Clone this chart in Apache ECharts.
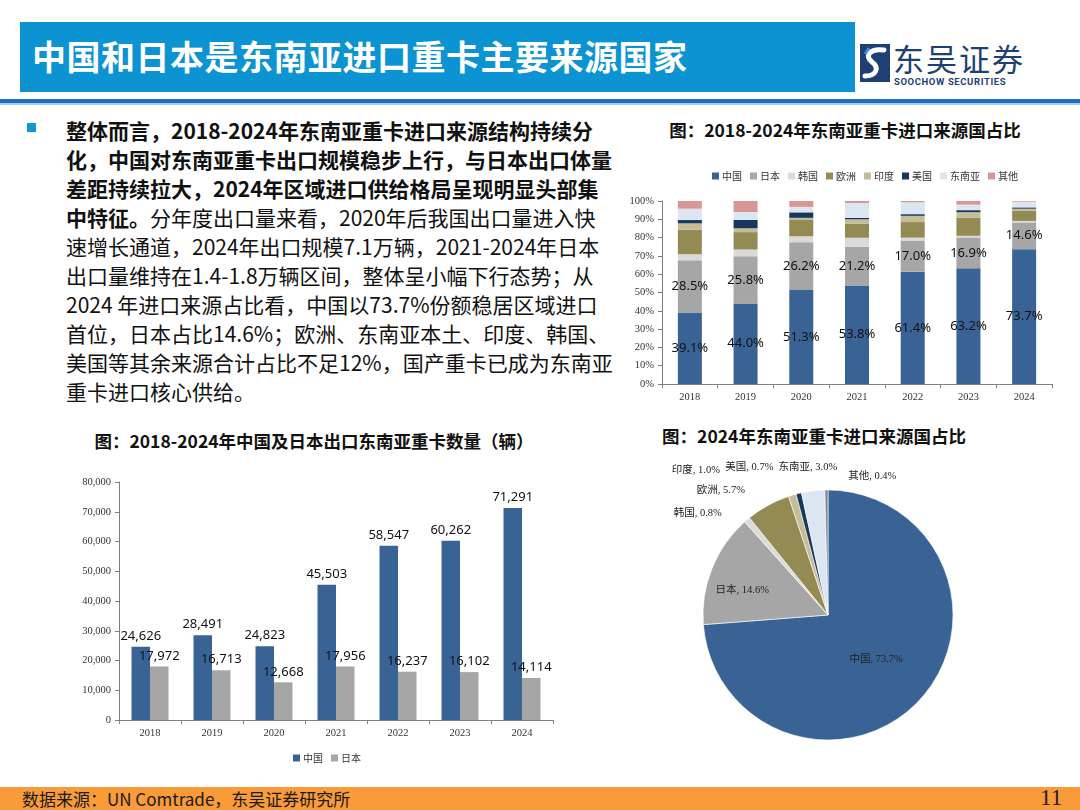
<!DOCTYPE html>
<html>
<head>
<meta charset="utf-8">
<script src="https://cdn.jsdelivr.net/npm/echarts@6/dist/echarts.min.js"></script>
<style>
  html, body { margin:0; padding:0; }
  body { width:1080px; height:810px; position:relative; overflow:hidden; background:#fff; font-family:"Noto Sans CJK SC","Noto Sans",sans-serif; }
  .abs { position:absolute; }
  #hdr { left:20px; top:22px; width:835px; height:70px; background:#0c93d1; }
  #hdrTitle { left:32px; top:34px; color:#fff; font-size:34px; font-weight:bold; line-height:44px; white-space:nowrap; letter-spacing:0.5px; }
  #line1 { left:0; top:99px; width:1080px; height:4px; background:#1f6fba; }
  #line2 { left:0; top:103px; width:1080px; height:2px; background:#a9c9e8; }
  #logoText { left:893px; top:39px; font-size:31px; color:#1d3f72; line-height:38px; white-space:nowrap; letter-spacing:2px; }
  #logoSub { left:894px; top:76px; font-size:9.5px; font-weight:bold; color:#1d3f72; white-space:nowrap; letter-spacing:0.6px; font-family:"Roboto","DejaVu Sans Condensed",sans-serif; }
  #bullet { left:27px; top:123px; width:9px; height:9px; background:#1197d6; }
  #para { left:66px; top:116px; font-size:21px; line-height:29px; color:#111; white-space:nowrap; }
  #para b { font-weight:bold; }
  .ctitle { font-size:17.5px; font-weight:bold; color:#111; white-space:nowrap; text-align:center; }
  #foot { left:0; top:787px; width:1080px; height:23px; background:#f89b38; }
  #footText { left:22px; top:787px; font-size:17px; line-height:23px; color:#1a1a1a; white-space:nowrap; letter-spacing:0px; }
  #pageNo { left:1040px; top:785px; font-size:23px; line-height:26px; color:#222; font-family:"Liberation Serif",serif; }
  #chart { left:0; top:0; width:1080px; height:810px; }
</style>
</head>
<body>
<div id="hdr" class="abs"></div>
<div id="hdrTitle" class="abs">中国和日本是东南亚进口重卡主要来源国家</div>
<svg class="abs" style="left:860px;top:44px" width="30" height="38" viewBox="0 0 30 38">
  <rect x="0" y="0" width="30" height="38" fill="#1d3f72"/>
  <path d="M24 6 C10 4, 4 12, 12 18 C20 24, 16 32, 5 32" stroke="#fff" stroke-width="5" fill="none" stroke-linecap="round"/>
  <path d="M9 4 L5 10" stroke="#3f8fd6" stroke-width="3"/>
</svg>
<div id="logoText" class="abs">东吴证券</div>
<div id="logoSub" class="abs">SOOCHOW SECURITIES</div>
<div id="line1" class="abs"></div>
<div id="line2" class="abs"></div>

<div id="bullet" class="abs"></div>
<div id="para" class="abs">
<b>整体而言，2018-2024年东南亚重卡进口来源结构持续分</b><br>
<b>化，中国对东南亚重卡出口规模稳步上行，与日本出口体量</b><br>
<b>差距持续拉大，2024年区域进口供给格局呈现明显头部集</b><br>
<b>中特征。</b>分年度出口量来看，2020年后我国出口量进入快<br>
速增长通道，2024年出口规模7.1万辆，2021-2024年日本<br>
出口量维持在1.4-1.8万辆区间，整体呈小幅下行态势；从<br>
2024 年进口来源占比看，中国以73.7%份额稳居区域进口<br>
首位，日本占比14.6%；欧洲、东南亚本土、印度、韩国、<br>
美国等其余来源合计占比不足12%，国产重卡已成为东南亚<br>
重卡进口核心供给。
</div>

<div class="abs ctitle" style="left:645px;top:117px;width:400px;">图：2018-2024年东南亚重卡进口来源国占比</div>
<div class="abs ctitle" style="left:64px;top:428px;width:500px;">图：2018-2024年中国及日本出口东南亚重卡数量（辆）</div>
<div class="abs ctitle" style="left:614px;top:423px;width:400px;">图：2024年东南亚重卡进口来源国占比</div>

<div id="foot" class="abs"></div>
<div id="footText" class="abs">数据来源：UN Comtrade，东吴证券研究所</div>
<div id="pageNo" class="abs">11</div>

<div id="chart" class="abs"></div>

<script>
// ---- data ----
const years = ['2018', '2019', '2020', '2021', '2022', '2023', '2024'];
const chinaQty = [24626, 28491, 24823, 45503, 58547, 60262, 71291];
const japanQty = [17972, 16713, 12668, 17956, 16237, 16102, 14114];

const sourceNames = ['中国', '日本', '韩国', '欧洲', '印度', '美国', '东南亚', '其他'];
const shareChina  = [39.1, 44.0, 51.3, 53.8, 61.4, 63.2, 73.7];
const shareJapan  = [28.5, 25.8, 26.2, 21.2, 17.0, 16.9, 14.6];
const shareKorea  = [3.3, 3.7, 3.2, 4.9, 1.6, 0.9, 0.8];
const shareEurope = [13.4, 9.5, 9.2, 7.7, 8.5, 9.8, 5.7];
const shareIndia  = [3.5, 2.1, 0.9, 2.4, 3.4, 3.1, 1.0];
const shareUS     = [1.8, 4.6, 3.0, 0.7, 0.9, 1.1, 0.7];
const shareSEA    = [6.2, 4.3, 3.0, 8.2, 6.5, 3.0, 3.0];
const shareOther  = [4.2, 6.0, 3.2, 1.1, 0.7, 2.0, 0.4];

const pie2024Values = [73.7, 14.6, 0.8, 5.7, 1.0, 0.7, 3.0, 0.4];

const pctTicks = [0, 10, 20, 30, 40, 50, 60, 70, 80, 90, 100];
const qtyTicks = [0, 10000, 20000, 30000, 40000, 50000, 60000, 70000, 80000];

// ---- styles ----
const stackColors = ['#3a6395', '#a6a6a6', '#dadada', '#948a54', '#c4bd97', '#17375e', '#dce6f2', '#d99694'];
const pieColors   = ['#3a6395', '#a6a6a6', '#dadada', '#948a54', '#c4bd97', '#17375e', '#dce6f2', '#7b8898'];
// outside-label spacing of the small pie slices (label line hidden; lengths only steer label placement)
const pieLabelLen  = [0, 0, 8, 17, 26, 27, 24, 14];
const pieLabelLen2 = [0, 0, 15, 10, 60, 14, -32, -75];
const serif = '"Liberation Serif", "Noto Sans CJK SC", serif';
const fmtThousands = v => Number(v).toLocaleString('en-US');

const shareSeries = [shareChina, shareJapan, shareKorea, shareEurope, shareIndia, shareUS, shareSEA, shareOther];

const chart = echarts.init(document.getElementById('chart'), null, { renderer: 'canvas' });

const axisCommon = {
  axisLine: { show: true, lineStyle: { color: '#7f7f7f', width: 1 } },
  axisTick: { show: true, length: 4, lineStyle: { color: '#7f7f7f' } },
  splitLine: { show: false },
  axisLabel: { fontFamily: serif, fontSize: 10.5, color: '#333' }
};

const series = [];
shareSeries.forEach((arr, i) => {
  series.push({
    name: sourceNames[i],
    type: 'bar',
    xAxisIndex: 0, yAxisIndex: 0,
    stack: 'share',
    barWidth: 24,
    data: arr,
    itemStyle: { color: stackColors[i] },
    label: (i < 2) ? {
      show: true, position: 'inside', color: '#111',
      fontFamily: '"Noto Sans", sans-serif', fontSize: 13,
      formatter: p => Number(p.value).toFixed(1) + '%'
    } : { show: false }
  });
});

series.push({
  name: '中国', type: 'bar', xAxisIndex: 1, yAxisIndex: 1,
  barWidth: 18.5, barGap: '0%', data: chinaQty,
  itemStyle: { color: '#3a6395' },
  label: { show: true, position: 'top', distance: 4, color: '#111', fontFamily: '"Noto Sans", sans-serif', fontSize: 13, formatter: p => fmtThousands(p.value) }
});
series.push({
  name: '日本', type: 'bar', xAxisIndex: 1, yAxisIndex: 1,
  barWidth: 18.5, barGap: '0%', data: japanQty,
  itemStyle: { color: '#a6a6a6' },
  label: { show: true, position: 'top', distance: 4, color: '#111', fontFamily: '"Noto Sans", sans-serif', fontSize: 13, formatter: p => fmtThousands(p.value) }
});

series.push({
  type: 'pie',
  name: '2024',
  center: [828, 615],
  radius: 125,
  startAngle: 90,
  clockwise: true,
  avoidLabelOverlap: false,
  itemStyle: { borderColor: '#fff', borderWidth: 0.6 },
  label: { show: true, position: 'outside', fontFamily: serif, fontSize: 10.5, color: '#222', distanceToLabelLine: 5,
           formatter: p => p.name + ', ' + p.value.toFixed(1) + '%' },
  labelLine: { show: false },
  labelLayout: p => (p.dataIndex === 1 ? { dx: -25 } : {}),
  data: sourceNames.map((n, i) => {
    const d = { name: n, value: pie2024Values[i], itemStyle: { color: pieColors[i] } };
    if (i < 2) {
      d.label = { position: 'inside' };
    } else {
      d.labelLine = { show: false, length: pieLabelLen[i], length2: pieLabelLen2[i] };
    }
    return d;
  })
});

const option = {
  animation: false,
  backgroundColor: 'transparent',
  grid: [
    { left: 662, top: 201, width: 390, height: 183 },
    { left: 119, top: 482, width: 434, height: 238 }
  ],
  legend: [
    {
      data: sourceNames, left: 707, top: 166, icon: 'rect', itemWidth: 7, itemHeight: 7, itemGap: 8,
      textStyle: { fontSize: 10, color: '#333', fontFamily: '"Noto Sans CJK SC", sans-serif', padding: [0, 0, 0, -2] },
      selectedMode: false
    },
    {
      data: ['中国', '日本'], left: 288, top: 748, icon: 'rect', itemWidth: 7, itemHeight: 7, itemGap: 8,
      textStyle: { fontSize: 10, color: '#333', fontFamily: '"Noto Sans CJK SC", sans-serif', padding: [0, 0, 0, -2] },
      selectedMode: false
    }
  ],
  xAxis: [
    Object.assign({}, axisCommon, { gridIndex: 0, type: 'category', data: years }),
    Object.assign({}, axisCommon, { gridIndex: 1, type: 'category', data: years })
  ],
  yAxis: [
    Object.assign({}, axisCommon, { gridIndex: 0, type: 'value', min: pctTicks[0], max: pctTicks[pctTicks.length - 1], interval: pctTicks[1] - pctTicks[0],
      axisLabel: { fontFamily: serif, fontSize: 10.5, color: '#333', formatter: '{value}%' } }),
    Object.assign({}, axisCommon, { gridIndex: 1, type: 'value', min: qtyTicks[0], max: qtyTicks[qtyTicks.length - 1], interval: qtyTicks[1] - qtyTicks[0],
      axisLabel: { fontFamily: serif, fontSize: 10.5, color: '#333', formatter: v => fmtThousands(v) } })
  ],
  series: series
};
chart.setOption(option);
</script>
</body>
</html>
